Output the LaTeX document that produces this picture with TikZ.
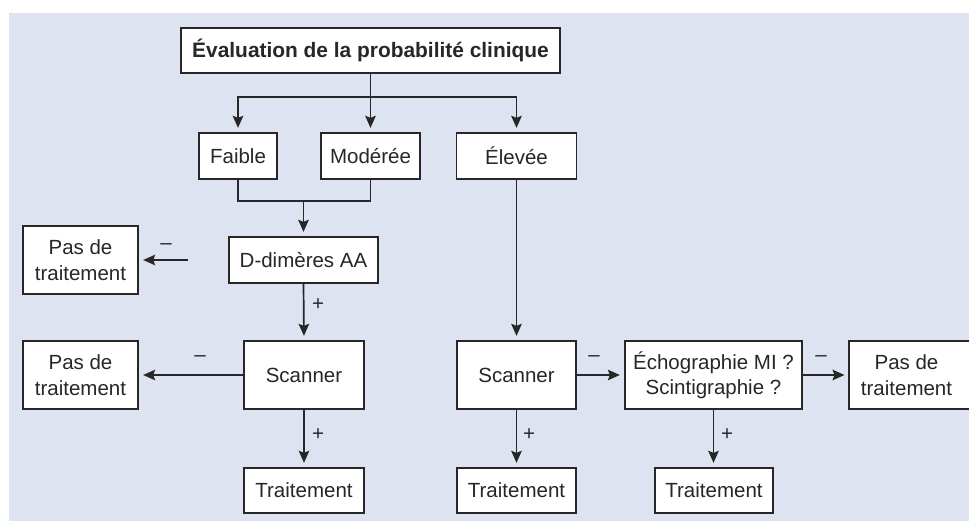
\documentclass[tikz,border=0pt]{standalone}
\usepackage{fontspec}
\setmainfont{Liberation Sans}
\usetikzlibrary{arrows.meta}
\definecolor{bgblue}{RGB}{221,227,241}
\definecolor{linec}{RGB}{40,38,38}
\newcommand{\fsz}{\fontsize{20.5}{25.5}\selectfont}
\newcommand{\fszt}{\fontsize{20.9}{25.5}\selectfont}
\tikzset{
  box/.style={draw=linec, fill=white, line width=1.3pt, inner sep=0pt, align=center, font=\fsz, text=linec},
  conn/.style={draw=linec, line width=1.7pt},
  arr/.style={conn, -{Stealth[length=12pt,width=10.5pt,inset=2pt]}, shorten >=4.5pt},
  lab/.style={font=\fsz, text=linec, inner sep=0pt}
}
\begin{document}
\begin{tikzpicture}[x=1pt,y=-1pt]
\useasboundingbox (0,0) rectangle (969,521);
\fill[white] (0,0) rectangle (969,521);
\fill[bgblue] (9,13) rectangle (969,521);

% nodes
\node[box, minimum width=379pt, minimum height=45pt, font=\fszt\bfseries] (title) at (370.5,50.5) {Évaluation de la probabilité clinique};
\node[box, minimum width=78pt, minimum height=46pt] (faible) at (238,156) {Faible};
\node[box, minimum width=99pt, minimum height=46pt] (moderee) at (370.5,156) {Modérée};
\node[box, minimum width=120pt, minimum height=46pt] (elevee) at (516.5,156) {Élevée};
\node[box, minimum width=149pt, minimum height=46pt] (ddim) at (303.5,260) {D-dimères AA};
\node[box, minimum width=115pt, minimum height=68pt] (pas1) at (80.5,260) {Pas de\\traitement};
\node[box, minimum width=120pt, minimum height=68pt] (scan1) at (304,375) {Scanner};
\node[box, minimum width=115pt, minimum height=68pt] (pas2) at (80.5,375) {Pas de\\traitement};
\node[box, minimum width=120pt, minimum height=45pt] (trait1) at (304,490.5) {Traitement};
\node[box, minimum width=119pt, minimum height=68pt] (scan2) at (516.5,375) {Scanner};
\node[box, minimum width=177pt, minimum height=68pt] (echo) at (713.5,375) {Échographie MI ?\\Scintigraphie ?};
\draw[draw=linec, fill=white, line width=1.3pt] (849,341) rectangle (980,409);
\node[box, draw=none, fill=none, minimum width=115pt, minimum height=68pt] (pas3) at (906.5,375) {Pas de\\traitement};
\node[box, minimum width=119pt, minimum height=45pt] (trait2) at (516.5,490.5) {Traitement};
\node[box, minimum width=118pt, minimum height=45pt] (trait3) at (714,490.5) {Traitement};

% junction coordinates
\coordinate (jt) at (370.5,97);
\coordinate (jm) at (303.5,201);
\coordinate (d0) at (188,260);

% top distribution
\draw[conn] (title.south) -- (jt);
\draw[arr] (jt) -| (faible.north);
\draw[arr] (jt) -- (moderee.north);
\draw[arr] (jt) -| (elevee.north);

% faible / moderee join
\draw[conn] (faible.south) |- (jm);
\draw[conn] (moderee.south) |- (jm);
\draw[arr] (jm) -- (ddim.north);

% d-dimeres
\draw[arr] (d0) -- (pas1.east);
\node[lab] (m1) at (166,247) {–};
\draw[arr] (ddim.south) -- (scan1.north);
\node[lab] (p1) at (318,305) {+};

% scanner left
\draw[arr] (scan1.west) -- (pas2.east);
\node[lab] (m2) at (200,359) {–};
\draw[arr] (scan1.south) -- (trait1.north);
\node[lab] (p2) at (318,435) {+};

% right branch
\draw[arr] (elevee.south) -- (scan2.north);
\draw[arr] (scan2.east) -- (echo.west);
\node[lab] (m3) at (594,359) {–};
\draw[arr] (scan2.south) -- (trait2.north);
\node[lab] (p3) at (529,435) {+};
\draw[arr] (echo.east) -- (849,375);
\node[lab] (m4) at (821,359) {–};
\draw[arr] (echo.south) -- (echo.south |- trait3.north);
\node[lab] (p4) at (727,435) {+};
\end{tikzpicture}
\end{document}
